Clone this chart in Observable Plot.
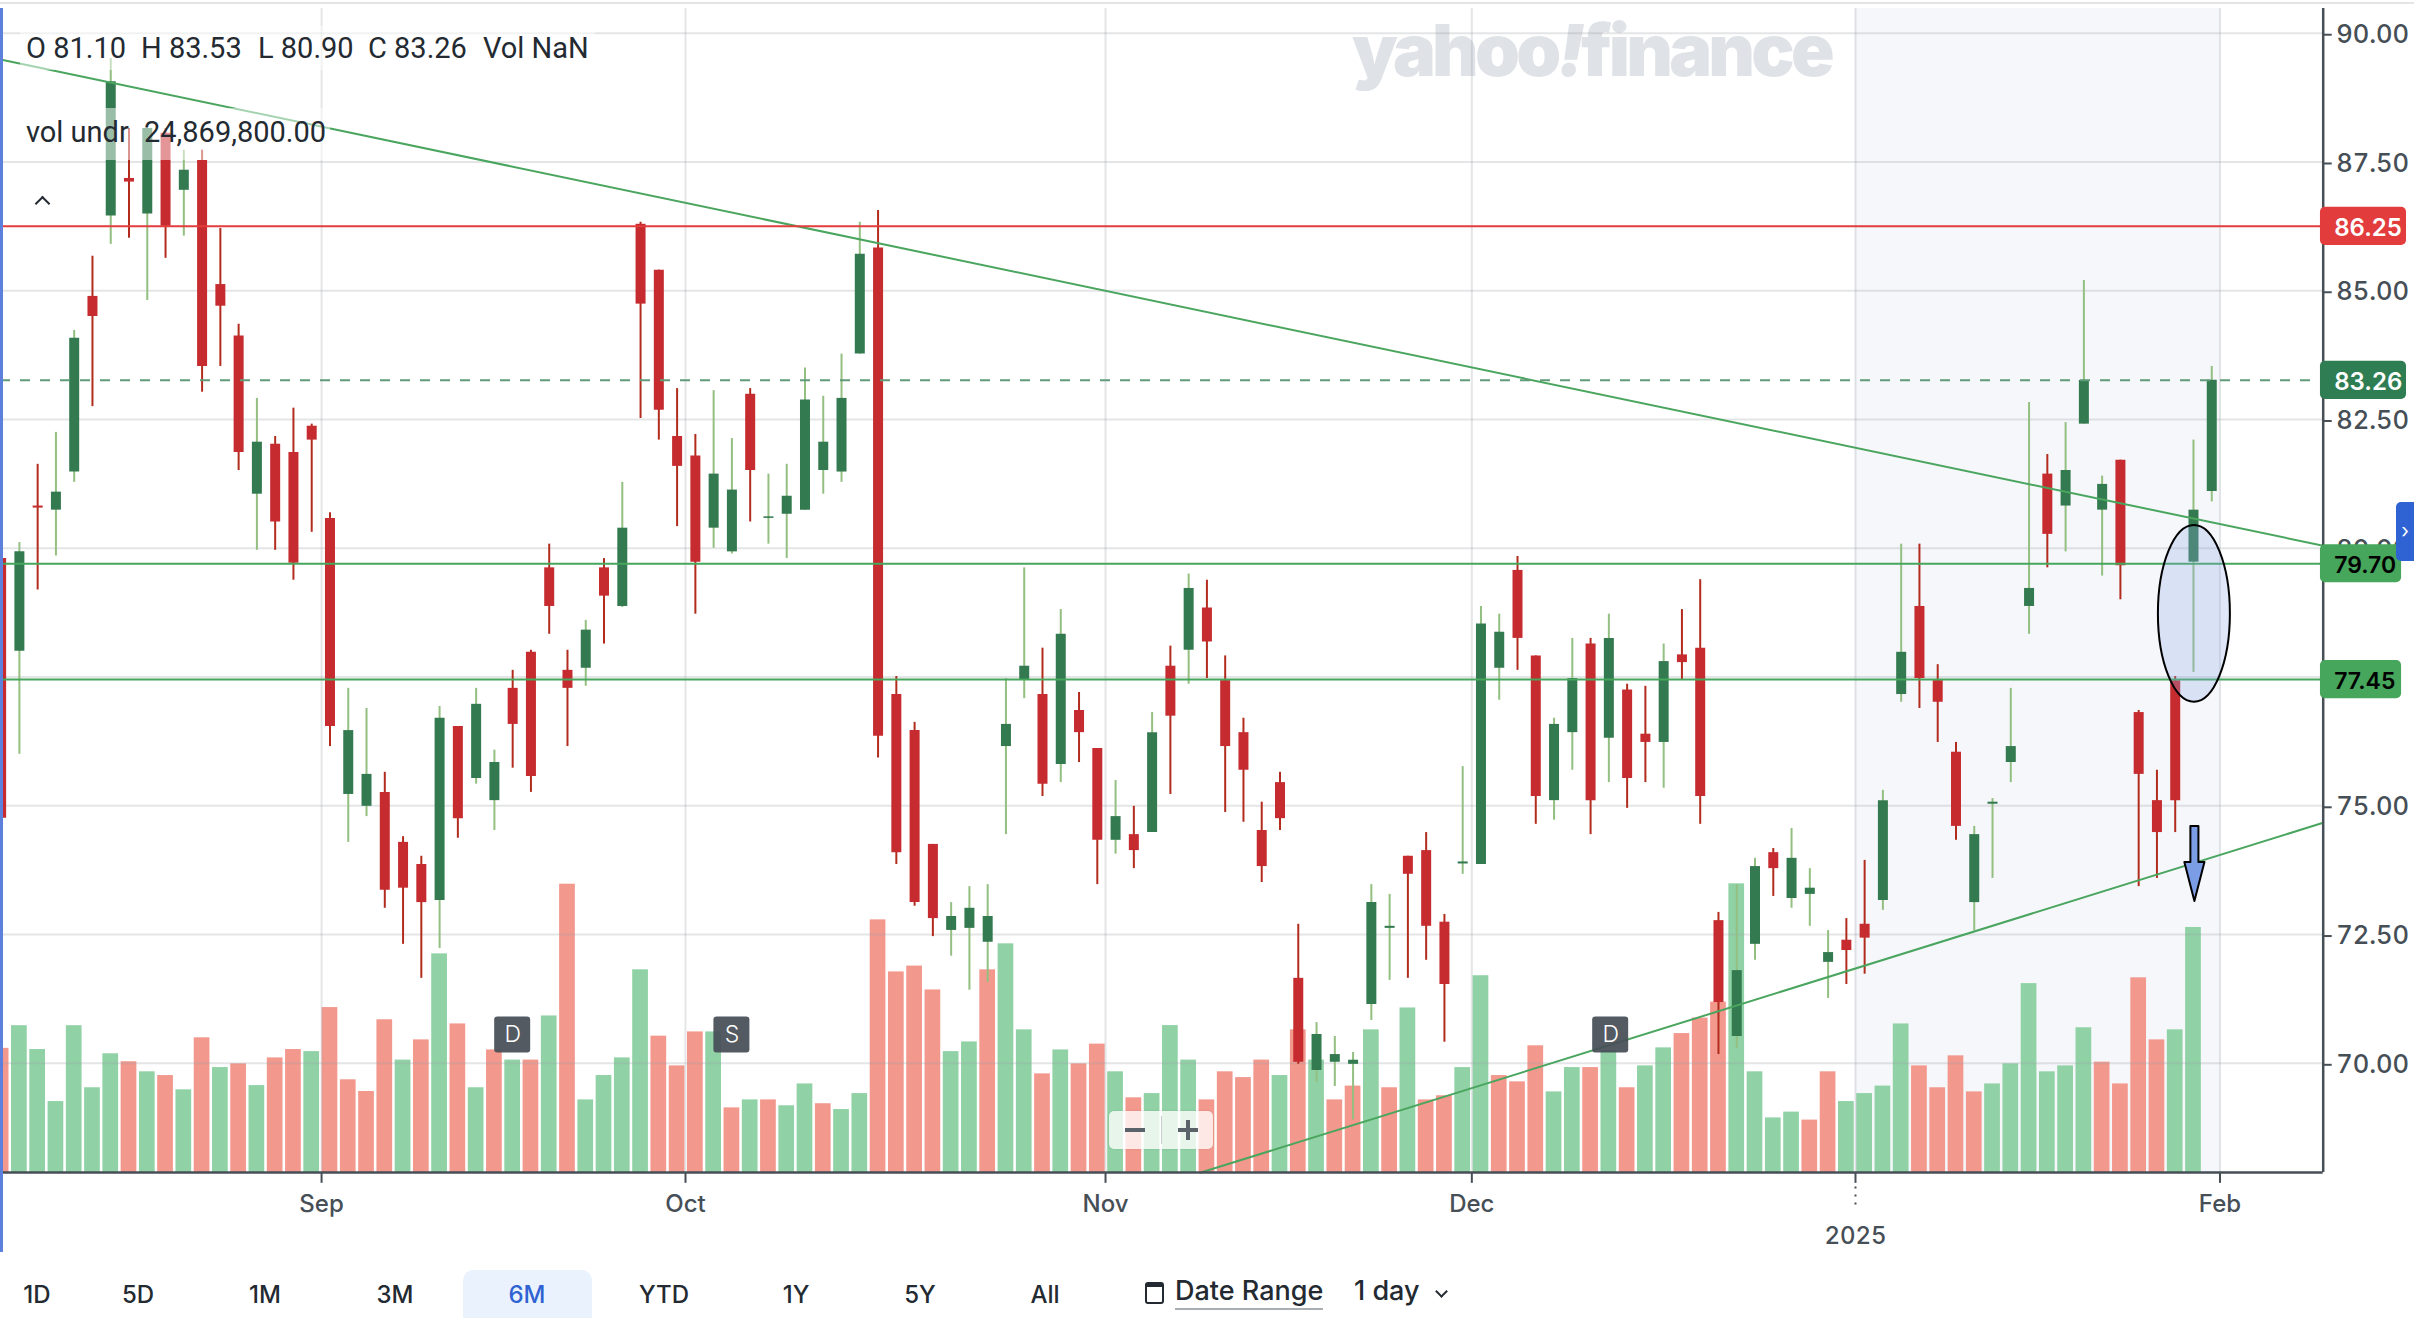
<!DOCTYPE html>
<html><head><meta charset="utf-8">
<script src="https://cdn.jsdelivr.net/npm/d3@7"></script>
<script src="https://cdn.jsdelivr.net/npm/@observablehq/plot@0.6"></script>
<style>
html,body{margin:0;padding:0;background:#fff;overflow:hidden}
#stage{position:relative;width:2414px;height:1318px;overflow:hidden;font-family:Inter,Roboto,sans-serif;color:#232a31}
#stage svg{position:absolute;left:0;top:0}
.abs{position:absolute;white-space:nowrap}
.ohlc{font-family:Roboto,sans-serif;font-size:29px;top:31px;color:#232a31}
.btn{font-size:24px;font-weight:500;top:1279px;transform:translateX(-50%);line-height:32px}
</style></head><body>
<div id="stage">
  <div class="abs" style="left:0;right:0;top:2px;height:2px;background:#e4e4e7"></div>
  <div id="layers"></div>
  <div class="abs" style="left:0;top:8px;width:3px;height:1244px;background:#5c80dc"></div>
  <div class="abs" id="wm" style="left:1352px;top:-5px;font-family:Inter,sans-serif;font-weight:900;font-size:72px;line-height:110px;letter-spacing:-3.8px;color:#dfe2e7">yahoo<span style="font-style:italic">!</span>finance</div>
  <div class="abs" style="left:20px;top:108px;width:310px;height:52px;background:rgba(255,255,255,.5)"></div>
  <div class="abs" style="left:20px;top:26px;width:575px;height:44px;background:rgba(255,255,255,.5)"></div>
  <span class="abs ohlc" style="left:26px">O 81.10</span>
  <span class="abs ohlc" style="left:141px">H 83.53</span>
  <span class="abs ohlc" style="left:258px">L 80.90</span>
  <span class="abs ohlc" style="left:368px">C 83.26</span>
  <span class="abs ohlc" style="left:483px">Vol NaN</span>
  <span class="abs ohlc" style="left:26px;top:115px">vol undr</span>
  <span class="abs ohlc" style="left:144px;top:115px">24,869,800.00</span>
  <div class="abs" style="left:37px;top:198px;width:9px;height:9px;border-left:2.5px solid #232a31;border-top:2.5px solid #232a31;transform:rotate(45deg)"></div>
  <div class="abs" style="left:1109px;top:1111px;width:104px;height:38px;background:rgba(255,255,255,.78);border-radius:5px;box-shadow:0 0 2px rgba(0,0,0,.15)">
    <div class="abs" style="left:16px;top:17px;width:20px;height:4px;background:#5b636a"></div>
    <div class="abs" style="left:52px;top:5px;width:1px;height:28px;background:#c8cdd0"></div>
    <div class="abs" style="left:69px;top:17px;width:20px;height:4px;background:#5b636a"></div>
    <div class="abs" style="left:77px;top:9px;width:4px;height:20px;background:#5b636a"></div>
  </div>
  <div class="abs" style="left:2396px;top:502px;width:18px;height:59px;background:#2f62d3;border-radius:5px 0 0 5px;color:#fff;font-size:20px;line-height:59px;text-align:center">›</div>
  <div class="abs" style="left:463px;top:1270px;width:129px;height:60px;background:#eaf3fd;border-radius:10px"></div>
  <span class="abs btn" style="left:37px">1D</span>
  <span class="abs btn" style="left:138px">5D</span>
  <span class="abs btn" style="left:265px">1M</span>
  <span class="abs btn" style="left:395px">3M</span>
  <span class="abs btn" style="left:527px;color:#2f62d3">6M</span>
  <span class="abs btn" style="left:664px">YTD</span>
  <span class="abs btn" style="left:796px">1Y</span>
  <span class="abs btn" style="left:920px">5Y</span>
  <span class="abs btn" style="left:1045px">All</span>
  <div class="abs" style="left:1145px;top:1282px;width:15px;height:15px;border:2.5px solid #232a31;border-top-width:5px;border-radius:3px"></div>
  <span class="abs" style="left:1175px;top:1274px;font-size:27px;font-weight:500;line-height:34px;border-bottom:2px solid #a9aeb3">Date Range</span>
  <span class="abs" style="left:1354px;top:1274px;font-size:27px;font-weight:500;line-height:34px">1 day</span>
  <div class="abs" style="left:1437px;top:1287px;width:7px;height:7px;border-right:2px solid #232a31;border-bottom:2px solid #232a31;transform:rotate(45deg)"></div>
</div>
<script>
const opens=[79.80,78.00,80.82,80.74,81.48,84.89,86.45,87.18,86.49,88.06,86.95,87.53,85.12,84.12,81.05,82.02,81.86,82.37,80.58,75.22,74.99,75.26,74.29,73.86,73.16,76.54,75.53,75.10,77.28,77.98,79.62,77.63,77.67,79.62,78.87,86.29,85.40,82.17,81.79,80.39,79.93,82.99,80.58,80.66,80.74,81.51,81.48,83.77,85.83,77.16,76.46,74.25,72.58,72.62,72.35,76.15,77.45,77.16,75.80,76.85,76.11,74.33,74.44,74.48,77.71,78.02,78.84,77.43,76.42,74.52,75.45,71.65,69.86,70.02,69.98,71.14,72.62,74.02,74.13,72.74,73.87,73.86,77.67,79.57,77.91,75.10,76.42,78.14,76.31,77.25,76.39,76.23,77.93,78.06,72.77,70.52,72.31,74.09,73.20,73.28,71.96,72.39,72.70,73.16,77.16,78.87,77.43,76.04,73.12,75.03,75.84,78.87,81.44,80.82,82.41,80.74,81.71,76.81,75.10,77.43,79.73,81.10];
const highs=[79.80,80.11,81.63,82.25,84.23,85.67,89.51,88.15,88.15,88.15,87.73,87.73,86.21,84.35,82.91,82.17,82.72,82.41,80.69,77.28,76.89,75.65,74.40,74.02,76.93,76.54,77.28,76.08,77.63,78.02,80.08,78.02,78.60,79.80,81.28,86.33,85.40,83.10,82.21,83.06,82.13,83.10,81.44,81.63,83.50,82.95,83.77,86.33,86.56,77.51,76.62,74.25,73.12,73.43,73.47,77.47,79.62,78.06,78.81,77.20,76.11,75.49,74.99,76.81,78.10,79.50,79.38,77.91,76.70,75.07,75.65,72.70,70.79,70.52,70.21,73.47,73.28,74.02,74.48,72.89,75.76,78.87,78.72,79.84,77.91,76.70,78.25,78.25,78.72,77.36,77.32,78.14,78.81,79.39,72.93,73.47,73.98,74.17,74.56,73.78,72.58,72.81,73.94,75.30,80.08,80.08,77.74,76.23,74.60,75.14,77.28,82.83,81.82,82.44,85.20,81.40,81.71,76.85,75.69,77.51,82.10,83.53];
const lows=[74.76,76.00,79.19,79.85,81.28,82.75,85.90,86.02,84.81,85.63,86.06,83.03,83.53,81.51,79.96,79.96,79.38,80.31,76.15,74.29,74.79,73.01,72.31,71.65,72.23,74.37,75.42,74.52,75.73,75.26,78.33,76.15,77.32,78.14,78.85,82.52,82.10,80.42,78.72,80.00,79.89,80.51,80.08,79.80,80.74,81.05,81.28,83.77,75.93,73.86,73.05,72.46,72.08,71.42,71.57,74.44,77.08,75.18,75.45,75.84,73.47,74.06,73.78,74.48,75.22,77.36,77.47,74.87,74.68,73.51,74.52,69.98,69.63,69.55,68.90,70.83,71.61,71.65,72.00,70.41,73.67,73.86,77.05,77.63,74.64,74.72,75.69,74.44,75.45,74.95,75.45,75.34,77.45,74.64,70.17,70.29,72.00,73.24,73.01,72.66,71.26,71.53,71.73,72.97,77.01,76.89,76.23,74.33,72.57,73.59,75.45,78.33,79.62,79.93,82.41,79.46,79.00,73.43,73.59,74.48,77.59,80.90];
const closes=[74.76,79.93,80.78,81.09,84.08,84.50,89.06,87.11,88.15,86.25,87.34,83.53,84.70,81.86,82.06,80.51,79.71,82.10,76.54,76.46,75.61,73.36,73.40,73.12,76.70,74.75,76.97,75.84,76.58,75.57,78.87,77.28,78.41,79.07,80.39,84.74,82.68,81.59,79.73,81.44,81.13,81.51,80.61,81.01,82.88,82.06,82.91,85.71,76.35,74.09,73.12,72.81,72.85,73.01,72.85,76.58,77.71,75.42,78.33,76.42,74.33,74.79,74.13,76.42,76.74,79.22,78.18,76.15,75.69,73.82,74.75,70.02,70.56,70.17,70.06,73.12,72.66,73.67,72.66,71.53,73.91,78.53,78.37,78.25,75.18,76.58,77.47,75.10,78.25,75.53,76.23,77.80,77.78,75.18,71.18,71.80,73.82,73.78,73.98,73.40,72.15,72.19,72.43,75.10,77.98,77.47,77.01,74.60,74.44,75.07,76.15,79.22,80.27,81.51,83.26,81.24,79.66,75.61,74.48,75.10,80.74,83.26];
const volumes=[12.6,14.9,12.48,7.2,14.9,8.6,12.05,11.24,10.22,9.84,8.39,13.67,10.65,11.03,8.82,11.63,12.48,12.27,16.74,9.41,8.22,15.5,11.41,13.46,22.19,15.08,8.6,12.44,11.41,11.41,15.89,29.26,7.37,9.84,11.63,20.57,13.84,10.82,14.27,14.27,6.56,7.37,7.37,6.77,8.99,6.98,6.39,8.01,25.64,20.36,20.95,18.53,12.27,13.25,20.57,23.21,14.48,10.01,12.44,11.03,13.03,10.22,7.58,8.01,14.91,11.41,7.37,10.22,9.63,11.41,9.84,14.48,11.41,7.37,8.77,14.48,8.6,16.7,7.37,7.79,10.65,19.97,9.84,9.2,12.86,8.18,10.65,10.65,12.39,8.6,10.82,12.65,14.1,15.67,17.29,29.3,10.22,5.54,6.13,5.32,10.22,7.2,8.01,8.77,15.08,10.82,8.6,11.84,8.18,8.99,11.03,19.17,10.22,10.82,14.69,11.2,8.99,19.76,13.46,14.48,24.87];
const volumeColors="r gggggg r g r g r g r g rr g rrrr g r g r g r g r g r gggg rrr g r g r gg r gg rrrr gg r gg r g rr g r ggg rrrr g r g rr g r g rr gg rrr gg r g r gg rrr gggg rr gggg rrrr gggggg rrrr gg".replace(/ /g,"").split("");
const monthTicks=[17.54,37.46,60.45,80.5,101.5,121.45];
const monthLabels=["Sep","Oct","Nov","Dec","","Feb"];
const yearTick=[101.5];
const yearLabel=["2025"];
const gridTicks=[70,72.5,75,77.5,80,82.5,85,87.5,90];
const priceTicks=[70,72.5,75,80,82.5,85,87.5,90];
const levels=[{v:86.25,fill:"#e23c3c",text:"#fff",x2:131.66,size:24},{v:83.26,fill:"#2f7d52",text:"#fff",x2:131.66,size:24},{v:79.70,fill:"#45a65c",text:"#000",x2:131.39,size:23},{v:77.45,fill:"#45a65c",text:"#000",x2:131.39,size:23}];
const fallLine=[{x:-0.034,y:89.49},{x:127.1,y:80.05}];
const riseLine=[{x:65.67,y:67.88},{x:127.1,y:74.67}];
const arrowShape=[{x:119.83,y:74.61},{x:120.27,y:74.61},{x:120.27,y:73.91},{x:120.6,y:73.91},{x:120.05,y:73.15},{x:119.5,y:73.91},{x:119.83,y:73.91},{x:119.83,y:74.61}];
const badges=[{x:28,t:"D"},{x:40,t:"S"},{x:88.1,t:"D"}];

const xDomain=[-0.034,127.1];
const candles=opens.map((o,i)=>({i,o,h:highs[i],l:lows[i],c:closes[i],up:closes[i]>=o}));
const bars=volumes.map((v,i)=>({i,v,c:volumeColors[i]}));

const common={width:2414,height:1250,marginLeft:0,marginRight:91.3,marginTop:8,marginBottom:78,
  style:{background:"transparent",fontFamily:"Inter,Roboto,sans-serif"}};

const volPlot=Plot.plot({...common,
  x:{domain:xDomain,axis:null},y:{domain:[0,118.14],axis:null},
  marks:[
    Plot.rect([0],{x1:()=>monthTicks[4],x2:()=>monthTicks[5],fill:"#f5f7fb"}),
    Plot.rectY(bars,{x1:d=>d.i-.43,x2:d=>d.i+.43,y1:0,y2:"v",fill:d=>d.c==="g"?"#90d2a5":"#f3988d"})
  ]});

const pricePlot=Plot.plot({...common,
  x:{domain:xDomain},y:{domain:[67.88,90.48]},
  marks:[
    Plot.ruleY(gridTicks,{stroke:"#9aa0a8",strokeOpacity:.27,strokeWidth:2}),
    Plot.ruleX(monthTicks,{stroke:"#9aa0a8",strokeOpacity:.27,strokeWidth:2}),
    Plot.ruleX(candles,{x:"i",y1:"l",y2:"h",stroke:d=>d.up?"#93bf80":"#b22c1e",strokeWidth:2}),
    Plot.ruleX(candles,{x:"i",y1:"o",y2:"c",stroke:d=>d.up?"#347a50":"#c62b2f",strokeWidth:10}),
    Plot.line(fallLine,{x:"x",y:"y",stroke:"#4aa55f",strokeWidth:2}),
    Plot.line(riseLine,{x:"x",y:"y",stroke:"#4aa55f",strokeWidth:2}),
    Plot.ruleY(levels.filter(d=>d.v!==83.26),{y:"v",stroke:d=>d.v===86.25?"#e23c3c":"#45a65c",strokeWidth:2}),
    Plot.ruleY(levels.filter(d=>d.v===83.26),{y:"v",stroke:"#5f9b78",strokeWidth:2,strokeDasharray:"10 10"}),
    Plot.rect([0],{x1:()=>118.08,x2:()=>122.02,y1:()=>77.01,y2:()=>80.44,fill:"#8ea8e6",fillOpacity:.28,stroke:"#000",strokeWidth:2,rx:36,ry:88.5}),
    Plot.line(arrowShape,{x:"x",y:"y",fill:"#7a9de6",stroke:"#000",strokeWidth:2}),
    Plot.ruleX(monthTicks,{y1:67.88,y2:67.67,stroke:"#464e56",strokeWidth:2}),
    Plot.ruleX(yearTick,{y1:67.6,y2:67.14,stroke:"#464e56",strokeWidth:2,strokeDasharray:"2 6"}),
    Plot.axisX({ticks:monthTicks,tickFormat:d=>monthLabels[monthTicks.indexOf(d)],tickSize:0,tickPadding:22,fontSize:24,fontWeight:500,fill:"#464e56",label:null}),
    Plot.axisX({ticks:yearTick,tickFormat:d=>yearLabel[0],tickSize:0,tickPadding:54,fontSize:24,fontWeight:500,fill:"#464e56",label:null}),
    Plot.axisY({anchor:"right",ticks:priceTicks,tickFormat:d3.format(".2f"),tickSize:8,tickPadding:5,fontSize:25.5,fontWeight:500,fill:"#464e56",stroke:"#464e56",strokeWidth:2,dy:1.5,label:null}),
    Plot.ruleX([xDomain[1]],{stroke:"#464e56",strokeWidth:2.5}),
    Plot.ruleY([67.88],{stroke:"#464e56",strokeWidth:2.5}),
    Plot.rect(badges,{x1:d=>d.x-.985,x2:d=>d.x+.985,y1:()=>70.2,y2:()=>70.9,fill:"#464e56",fillOpacity:.93,rx:3}),
    Plot.text(badges,{x:"x",y:()=>70.55,text:"t",fill:"#fff",fontSize:23,fontWeight:300}),
    Plot.rect(levels,{x1:()=>126.95,x2:"x2",y1:d=>d.v-.37,y2:d=>d.v+.37,fill:"fill",rx:5}),
    Plot.text(levels,{x:()=>127.7,y:"v",dy:2,text:d=>d.v.toFixed(2),fill:"text",textAnchor:"start",fontSize:d=>d.size,fontWeight:600})
  ]});

const layers=document.getElementById("layers");
layers.append(volPlot);
const wm=document.getElementById("wm");
layers.append(wm);
layers.append(pricePlot);
</script>
</body></html>
